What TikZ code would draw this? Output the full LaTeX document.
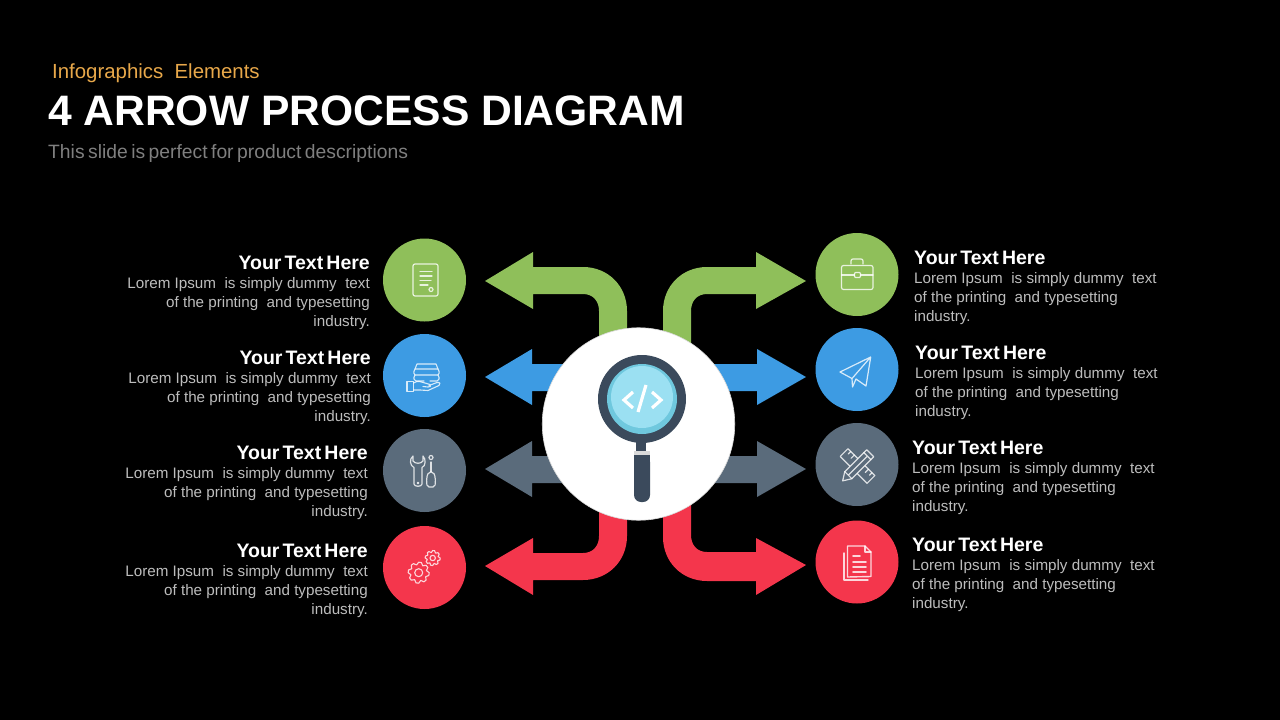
\documentclass[tikz,border=0pt]{standalone}
\usepackage{fontspec}
\setmainfont{Liberation Sans}
\definecolor{cgreen}{HTML}{8FBF5A}
\definecolor{cblue}{HTML}{3D9BE3}
\definecolor{cslate}{HTML}{5A6B7B}
\definecolor{cred}{HTML}{F4364C}
\definecolor{cdark}{HTML}{3B4A5C}
\definecolor{cteal}{HTML}{6FC8DE}
\definecolor{clight}{HTML}{9BE0F2}
\definecolor{corange}{HTML}{E8A84A}
\definecolor{csub}{HTML}{7F7F7F}
\definecolor{cbody}{HTML}{BDBDBD}
\tikzset{
  disc/.style={circle,inner sep=0pt,minimum size=83pt},
  headtxt/.style={inner sep=0pt,text=white,font=\fontsize{19.5}{24}\selectfont\bfseries},
  bodytxt/.style={inner sep=0pt,text=cbody,font=\fontsize{15.2}{19}\selectfont},
  ico/.style={draw=white,line width=1.2pt,line join=round,line cap=round,opacity=.8},
}
\newcommand{\lefttxt}[3]{%
  \node[headtxt,anchor=base east] (#1h) at (#2,#3+7) {\spaceskip=.16em\relax Your Text Here};
  \node[bodytxt,anchor=north east,align=right] (#1b) at (#2,#3+15.2) {Lorem Ipsum\ \ is simply dummy\ \ text\\of the printing\ \ and typesetting\\industry.};
}
\newcommand{\righttxt}[3]{%
  \node[headtxt,anchor=base west] (#1h) at (#2,#3+7) {\spaceskip=.16em\relax Your Text Here};
  \node[bodytxt,anchor=north west,align=left] (#1b) at (#2,#3+15.2) {Lorem Ipsum\ \ is simply dummy\ \ text\\of the printing\ \ and typesetting\\industry.};
}
\begin{document}
\begin{tikzpicture}[x=1pt,y=-1pt]
\useasboundingbox[fill=black] (0,0) rectangle (1280,720);
% titles
\node[inner sep=0,anchor=base west,text=corange,font=\fontsize{20.4}{24}\selectfont] (kicker) at (52,78) {Infographics\ \ Elements};
\node[inner sep=0,anchor=base west,text=white,font=\fontsize{42.6}{50}\selectfont\bfseries] (title) at (48,125) {4 ARROW PROCESS DIAGRAM};
\node[inner sep=0,anchor=base west,text=csub,font=\fontsize{19.3}{24}\selectfont] (sub) at (48,158) {\spaceskip=.18em\relax This slide is perfect for product descriptions};
% arrows left
\fill[cgreen] (485,281)--(533,252)--(533,267)--(583,267) .. controls (608,267) and (627,286) .. (627,311)--(627,345)--(599,345)--(599,311) .. controls (599,301) and (593,294) .. (583,294)--(533,294)--(533,309)--cycle;
\fill[cred] (485,566)--(533,538)--(533,553)--(583,553) .. controls (593,553) and (599,546) .. (599,536)--(599,505)--(627,505)--(627,536) .. controls (627,561) and (608,580) .. (583,580)--(533,580)--(533,595)--cycle;
\fill[cblue] (485,377)--(532,349)--(532,364)--(600,364)--(600,391)--(532,391)--(532,405)--cycle;
\fill[cslate] (485,469)--(532,441)--(532,456)--(600,456)--(600,483)--(532,483)--(532,497)--cycle;
% arrows right
\fill[cgreen] (806,281)--(756,252)--(756,267)--(707,267) .. controls (682,267) and (663,286) .. (663,311)--(663,345)--(691,345)--(691,311) .. controls (691,301) and (697,294) .. (707,294)--(756,294)--(756,309)--cycle;
\fill[cred] (806,565)--(756,538)--(756,552)--(707,552) .. controls (697,552) and (691,545) .. (691,535)--(691,505)--(663,505)--(663,537) .. controls (663,562) and (682,581) .. (707,581)--(756,581)--(756,595)--cycle;
\fill[cblue] (806,377)--(757,349)--(757,364)--(690,364)--(690,391)--(757,391)--(757,405)--cycle;
\fill[cslate] (806,469)--(757,441)--(757,456)--(690,456)--(690,483)--(757,483)--(757,497)--cycle;
% centre
\node[circle,fill=white,draw=black!15,line width=.6pt,inner sep=0,minimum size=192.5pt] (hub) at (638.5,424) {};
\fill[cdark] (636,438) rectangle (646,453);
\fill[black!15] (634,451) rectangle (650,456);
\fill[cdark,rounded corners=7pt] (634,455) rectangle (650,502);
\fill[cdark] (634,455) rectangle (650,465);
\node[circle,fill=cdark,inner sep=0,minimum size=88pt] (lensa) at (642,399) {};
\node[circle,fill=cteal,inner sep=0,minimum size=70pt] (lensb) at (642,399) {};
\node[circle,fill=clight,inner sep=0,minimum size=62pt] (lensc) at (642,397) {};
\draw[white,line width=3.2pt] (633,392)--(624,400)--(633,408);
\draw[white,line width=3.2pt] (652,392)--(661,400)--(652,408);
\draw[white,line width=3.2pt] (646,385)--(638,412);
% discs
\node[disc,fill=cgreen] (d1) at (424.5,280) {};
\node[disc,fill=cblue] (d2) at (424.5,375.5) {};
\node[disc,fill=cslate] (d3) at (424.5,470.5) {};
\node[disc,fill=cred] (d4) at (424.5,567.5) {};
\node[disc,fill=cgreen] (d5) at (857,274.5) {};
\node[disc,fill=cblue] (d6) at (857,369.5) {};
\node[disc,fill=cslate] (d7) at (857,464.5) {};
\node[disc,fill=cred] (d8) at (857,562) {};
% icon 1 document
\draw[ico,rounded corners=2pt] (413,264) rectangle (438,296);
\draw[ico] (420,271.5)--(432,271.5) (420,276)--(432,276) (420,280.5)--(431,280.5) (420,285)--(428,285);
\draw[ico] (431,289.5) circle (2pt);
% icon 2 hand with stack
\draw[ico,line width=1.1pt] (415,369)--(417,364)--(436,364)--(438,369)--cycle;
\draw[ico,line width=1.1pt] (415,369) .. controls (413,372) and (414,375) .. (415,375)--(438,375) .. controls (439,375) and (440,372) .. (438,369);
\draw[ico,line width=1.1pt] (415,375) .. controls (413,378) and (414,381) .. (416,381)--(424,381) (430,381)--(437,381) .. controls (439,381) and (440,378) .. (438,375);
\draw[ico,line width=1.1pt] (407,381.5) rectangle (413.5,391.5);
\draw[ico,line width=1.1pt] (413.5,383) .. controls (418,380) and (421,382) .. (425,383)--(430,384.5) .. controls (432,386) and (430,387) .. (428,387)--(423,386.5) (429,385.5)--(437,382.5) .. controls (440,382) and (441,384) .. (439,385.5)--(428,390.5)--(420,390)--(413.5,390);
% icon 3 wrench + screwdriver
\draw[ico] (413,456) .. controls (409,459) and (410,466) .. (414,467.5)--(414,484) .. controls (414,487) and (422,487) .. (422,484)--(422,467.5) .. controls (426,466) and (426,459) .. (423,456)--(423,461) .. controls (421,464) and (415,464) .. (413,461)--cycle;
\draw[ico] (418,483) circle (.8pt);
\draw[ico] (431,462)--(431,472);
\draw[ico] (431,457.5) circle (2pt);
\draw[ico,rounded corners=2pt] (428.5,472)--(433.5,472)--(435.5,478)--(435,487)--(427,487)--(426.5,478)--cycle;
% icon 4 gears
\foreach \cx/\cy/\ro/\ri/\rh in {418.7/572.7/10.5/8/4, 432.7/558/7.5/5.6/2.7}{
  \draw[ico,line width=1.1pt] plot[samples at={0,15,...,345},variable=\a] ({\cx+(mod(\a,45)<22?\ro:\ri)*cos(\a)},{\cy+(mod(\a,45)<22?\ro:\ri)*sin(\a)}) -- cycle;
  \draw[ico,line width=1.1pt] (\cx,\cy) circle (\rh pt);
}
% icon 5 briefcase
\draw[ico,rounded corners=2pt] (841.5,265.5) rectangle (873,289.5);
\draw[ico] (841.5,275)--(854.5,275) (860.5,275)--(873,275);
\draw[ico,rounded corners=1pt] (854.5,272.5) rectangle (860.5,277.5);
\draw[ico] (851,264)--(851,261) .. controls (851,259.5) and (852,259) .. (853,259)--(861,259) .. controls (862,259) and (863,259.5) .. (863,261)--(863,264);
% icon 6 paper plane
\draw[ico] (870.7,357)--(840,372)--(852,378.5)--(870.7,357)--(866,386)--(856,379)--(852.5,387)--(852,378.5);
% icon 7 pencil and ruler
\begin{scope}[shift={(857.5,466)},rotate=-45]
\draw[ico] (-19,-5.5) rectangle (19,5.5);
\draw[ico] (-15,-5.5)--(-15,-2) (-10,-5.5)--(-10,-1) (10,-5.5)--(10,-1) (15,-5.5)--(15,-2);
\end{scope}
\begin{scope}[shift={(857.5,466)},rotate=45]
\fill[cslate] (-13,-5)--(18,-5)--(18,5)--(-13,5)--(-21,0)--cycle;
\draw[ico] (-13,-5)--(18,-5)--(18,5)--(-13,5)--(-21,0)--cycle;
\draw[ico] (-13,-5)--(-13,5) (14,-5)--(14,5) (-13,0)--(14,0);
\end{scope}
% icon 8 documents
\draw[ico,line width=1.4pt] (844,553)--(844,580)--(868,580);
\draw[ico,line width=1.4pt] (847.5,577)--(847.5,546)--(865,546)--(871,552)--(871,576.5)--cycle;
\draw[ico,line width=1.2pt] (865,546)--(865,552)--(871,552);
\draw[ico,line width=1.8pt] (853,556)--(860,556) (853,562)--(866,562) (853,567)--(866,567) (853,572)--(866,572);
% texts
\lefttxt{t1}{370}{262}
\lefttxt{t2}{371}{357}
\lefttxt{t3}{368}{452}
\lefttxt{t4}{368}{550}
\righttxt{t5}{914}{257}
\righttxt{t6}{915}{352}
\righttxt{t7}{912}{447}
\righttxt{t8}{912}{544}
\end{tikzpicture}
\end{document}
